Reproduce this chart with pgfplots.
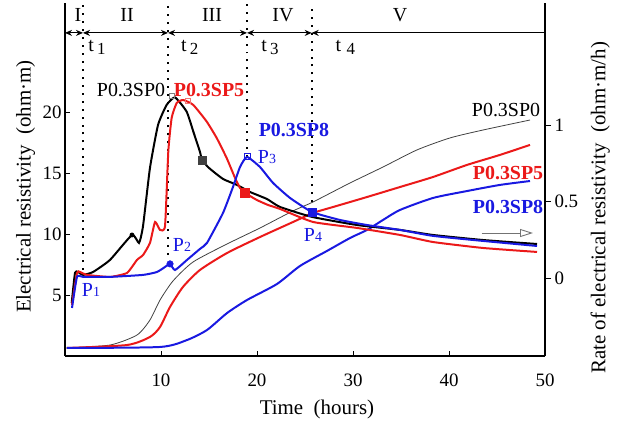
\documentclass[border=0pt]{standalone}
\usepackage{fontspec}
\setmainfont{Liberation Serif}
\usepackage{pgfplots}
\pgfplotsset{compat=1.18}
\usetikzlibrary{arrows.meta}
\definecolor{cred}{RGB}{235,25,25}
\definecolor{cblue}{RGB}{25,25,225}
\begin{document}
\begin{tikzpicture}
\pgfplotsset{every axis/.append style={scale only axis, width=480bp, height=353bp, xmin=0, xmax=50,
  /pgf/number format/assume math mode=true,
  tick label style={font=\fontsize{19}{22}\selectfont},
  axis line style={line width=1.3pt}, tick style={line width=0.8pt, black}}}
\begin{axis}[
 axis x line*=bottom, axis y line*=left,
 ymin=0, ymax=28.93,
 xtick={10,20,30,40,50}, ytick={5,10,15,20},
 tick align=inside, major tick length=5bp,
 xticklabel shift=14bp,
 clip=false,
]
% resistivity curves (left axis)
\addplot[black!75, line width=0.8pt, smooth, tension=0.4] coordinates {
(0.10,0.66)(4.69,0.90)(7.5,1.72)(8.85,2.95)(9.90,4.59)(11.25,6.15)(13.33,7.70)(16.88,9.18)(20.31,10.49)(23.75,11.89)(25.83,12.62)(29.69,14.18)(33.13,15.49)(36.67,16.89)(40.10,17.87)(43.54,18.52)(48.44,19.34)};
\addplot[cred, line width=2pt, smooth, tension=0.4] coordinates {
(0.2,0.66)(6.46,0.90)(8.85,1.56)(9.90,2.38)(10.94,4.02)(12.29,5.66)(14.06,7.05)(16.88,8.44)(20.31,9.75)(23.75,10.98)(25.83,11.72)(27.92,12.21)(31.46,13.03)(34.90,13.85)(38.33,14.67)(41.88,15.66)(45.31,16.48)(48.44,17.30)};
\addplot[cblue, line width=2pt, smooth, tension=0.4] coordinates {
(0.2,0.66)(9.90,0.74)(12.71,1.31)(14.79,2.13)(16.88,3.52)(18.96,4.59)(22.08,5.90)(24.48,7.38)(27.29,8.61)(29.69,9.67)(31.46,10.33)(33.13,11.15)(34.90,11.97)(38.33,12.95)(41.88,13.52)(45.31,14.02)(48.44,14.34)};
% dotted stage lines
\draw[line width=2pt, dash pattern=on 2pt off 6pt] (axis cs:1.875,7.05) -- (axis cs:1.875,28.9);
\draw[line width=2pt, dash pattern=on 2pt off 6pt] (axis cs:10.73,8.28) -- (axis cs:10.73,28.9);
\draw[line width=2pt, dash pattern=on 2pt off 6pt] (axis cs:18.96,16.3) -- (axis cs:18.96,28.9);
\draw[line width=2pt, dash pattern=on 2pt off 6pt] (axis cs:25.7,11.97) -- (axis cs:25.7,28.9);
% stage arrows
\tikzset{sa/.style={line width=1.2pt}, ah/.tip={Stealth[length=7bp, width=6bp]}}
\draw[sa, ah-ah] (axis cs:0,26.48) -- (axis cs:1.875,26.48);
\draw[sa, ah-ah] (axis cs:1.875,26.48) -- (axis cs:10.73,26.48);
\draw[sa, ah-ah] (axis cs:10.73,26.48) -- (axis cs:18.96,26.48);
\draw[sa, ah-ah] (axis cs:18.96,26.48) -- (axis cs:25.7,26.48);
\draw[sa, ah-] (axis cs:25.7,26.48) -- (axis cs:50,26.48);
\draw[line width=1.3pt] (axis cs:50,0) -- (axis cs:50,28.93);
\begin{scope}[every node/.style={font=\fontsize{20}{24}\selectfont, inner sep=0pt}]
\node at (axis cs:1.35,27.95) {I};
\node at (axis cs:6.46,27.95) {II};
\node at (axis cs:15.31,27.95) {III};
\node at (axis cs:22.7,27.95) {IV};
\node at (axis cs:34.9,27.95) {V};
\node at (axis cs:3.33,25.3) {t\,\raisebox{-3bp}{\fontsize{17}{17}\selectfont 1}};
\node at (axis cs:13.0,25.3) {t\,\raisebox{-3bp}{\fontsize{17}{17}\selectfont 2}};
\node at (axis cs:21.35,25.3) {t\,\raisebox{-3bp}{\fontsize{17}{17}\selectfont 3}};
\node at (axis cs:29.2,25.3) {t\;\raisebox{-3bp}{\fontsize{17}{17}\selectfont 4}};
\node[black] at (axis cs:6.875,21.80) {P0.3SP0};
\node[cred] at (axis cs:15.0,21.80) {\bfseries P0.3SP5};
\node[cblue] at (axis cs:23.85,18.52) {\bfseries P0.3SP8};
\node[black] at (axis cs:45.94,20.16) {P0.3SP0};
\node[cred] at (axis cs:46.15,15.0) {\bfseries P0.3SP5};
\node[cblue] at (axis cs:46.15,12.21) {\bfseries P0.3SP8};
\node[cblue] at (axis cs:2.71,5.41) {P{\fontsize{14}{14}\selectfont 1}};
\node[cblue] at (axis cs:12.19,9.10) {P{\fontsize{14}{14}\selectfont 2}};
\node[cblue] at (axis cs:21.04,16.31) {P{\fontsize{14}{14}\selectfont 3}};
\node[cblue] at (axis cs:25.83,9.92) {P{\fontsize{14}{14}\selectfont 4}};
\end{scope}
\draw[black!55, line width=0.9pt, -{Triangle[open, length=13bp, width=8bp]}] (axis cs:43.4,10.08) -- (axis cs:48.75,10.08);
\node[rotate=90, font=\fontsize{21}{24}\selectfont] at (axis description cs:-0.082,0.48) {Electrical resistivity\ \ (ohm·m)};
\node[rotate=90, font=\fontsize{21}{24}\selectfont] at (axis description cs:1.115,0.42) {Rate of electrical resistivity\ \ (ohm·m/h)};
\node[font=\fontsize{21}{24}\selectfont] at (axis description cs:0.525,-0.152) {Time\ \ (hours)};
\end{axis}
\begin{axis}[
 axis x line=none, axis y line*=right,
 ymin=-0.51, ymax=1.797,
 ytick={0,0.5,1}, yticklabels={0,0.5,1},
 tick align=outside, major tick length=6bp,
]
\addplot[black, line width=2pt, tension=0.3, smooth] coordinates {
(0.70,-0.163)(1.04,0.033)(1.35,0.039)(1.875,0.020)(2.92,0.039)(4.69,0.118)(6.98,0.281)(7.71,0.229)(8.13,0.340)(8.85,0.719)(9.69,1.0)(10.59,1.131)(11.46,1.180)(12.67,1.087)(13.37,0.956)(14.06,0.824)(14.27,0.771)(15.0,0.719)(16.46,0.647)(17.92,0.608)(19.27,0.562)(21.04,0.516)(22.40,0.464)(25.73,0.399)(30.42,0.346)(34.90,0.314)(38.33,0.281)(43.54,0.248)(49.17,0.222)};
\addplot[cred, line width=2pt, tension=0.3, smooth] coordinates {
(0.73,-0.176)(1.25,0.033)(1.56,0.039)(2.29,0.020)(4.69,0.007)(6.46,0.033)(7.5,0.118)(8.13,0.150)(8.85,0.229)(9.38,0.366)(9.90,0.314)(10.42,0.340)(10.76,0.826)(11.11,1.046)(11.64,1.144)(12.32,1.163)(13.36,1.131)(14.76,1.022)(15.80,0.915)(16.84,0.784)(17.71,0.654)(18.23,0.588)(18.75,0.556)(19.97,0.510)(21.15,0.477)(22.40,0.451)(25.83,0.366)(30.42,0.327)(34.90,0.281)(38.33,0.235)(43.54,0.196)(49.17,0.170)};
\addplot[cblue, line width=2pt, tension=0.3, smooth] coordinates {
(0.73,-0.196)(1.25,0.007)(1.875,0.007)(4.69,0.007)(8.13,0.020)(9.58,0.039)(10.42,0.072)(10.94,0.092)(11.46,0.052)(12.71,0.118)(14.06,0.190)(14.79,0.229)(16.46,0.425)(17.5,0.595)(18.23,0.725)(18.96,0.791)(20.31,0.725)(21.67,0.621)(23.44,0.523)(25.73,0.431)(28.65,0.379)(31.46,0.346)(34.90,0.314)(38.33,0.275)(43.54,0.242)(49.17,0.209)};
% markers
\addplot[only marks, mark=square*, mark size=4bp, black!75] coordinates {(14.27,0.771)};
\addplot[only marks, mark=square*, mark size=4.5bp, cred] coordinates {(18.75,0.556)};
\addplot[only marks, mark=square*, mark size=4bp, cblue] coordinates {(25.73,0.431)};
\addplot[only marks, mark=square, mark size=3bp, cblue, mark options={line width=0.6pt}] coordinates {(18.96,0.797)};
\addplot[only marks, mark=*, mark size=3.3bp, cblue] coordinates {(10.94,0.092)};
\addplot[only marks, mark=*, mark size=2.2bp, black] coordinates {(6.98,0.281)};
\addplot[only marks, mark=square, mark size=2.5bp, black!50, mark options={line width=0.5pt}] coordinates {(11.15,1.19)};
\addplot[only marks, mark=square, mark size=2.5bp, cred!60, mark options={line width=0.5pt}] coordinates {(12.81,1.157)};
\end{axis}
\pgfresetboundingbox
\path[use as bounding box] (-65bp,-65bp) rectangle (553bp,356bp);
\end{tikzpicture}
\end{document}
